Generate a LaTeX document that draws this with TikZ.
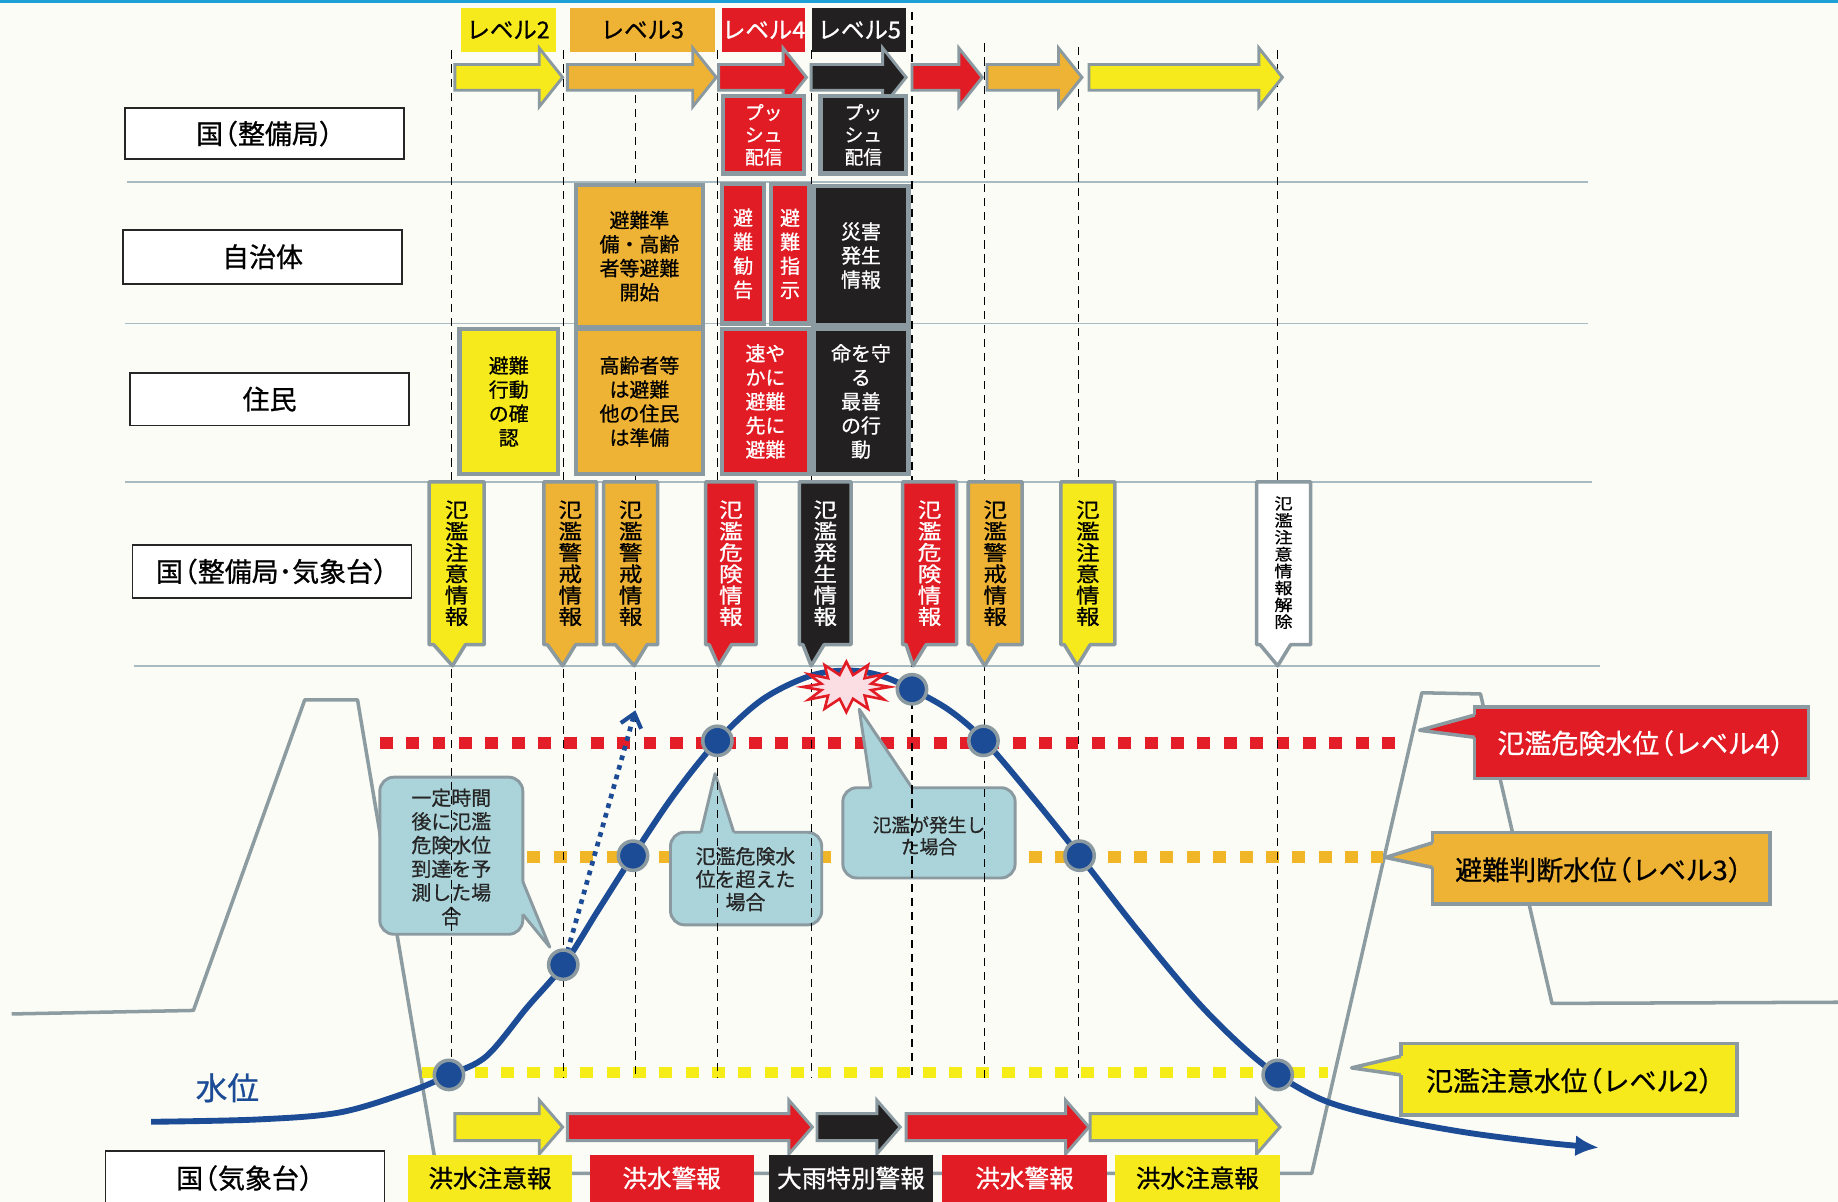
\documentclass[tikz,border=0pt]{standalone}
\usepackage{fontspec}
\setmainfont[FakeBold=0.8]{Noto Sans CJK JP}
\newfontfamily\jpwide[FakeStretch=1.15,FakeBold=0.8]{Noto Sans CJK JP}
\usetikzlibrary{arrows.meta}
\definecolor{bgc}{RGB}{252,252,246}
\definecolor{topc}{RGB}{30,160,215}
\definecolor{sepc}{RGB}{168,186,194}
\definecolor{gbord}{RGB}{138,154,160}
\definecolor{cyel}{RGB}{246,234,28}
\definecolor{cora}{RGB}{238,178,52}
\definecolor{cred}{RGB}{226,28,36}
\definecolor{cblk}{RGB}{34,32,32}
\definecolor{callc}{RGB}{170,212,218}
\definecolor{navyc}{RGB}{28,76,150}
\definecolor{dyke}{RGB}{140,156,160}
\definecolor{burstc}{RGB}{250,222,228}
\definecolor{dred}{RGB}{228,30,40}
\definecolor{dora}{RGB}{240,182,40}
\definecolor{dyel}{RGB}{246,236,24}
\newcommand\lpar{\kern-0.45em（}
\newcommand\rpar{）\kern-0.45em}
\newcommand\fsz[2]{\fontsize{#1}{#2}\selectfont}
\newcommand\blkarrow[6]{\draw[blk,fill=#6] (#1,{#3-#4}) -- ({#2-20},{#3-#4}) -- ({#2-20},{#3-#5}) -- (#2,#3) -- ({#2-20},{#3+#5}) -- ({#2-20},{#3+#4}) -- (#1,{#3+#4}) -- cycle;}
\newcommand\flagshape[4]{\draw[flagst,fill=#4] (#1,411) -- (#2,411) -- (#2,550) -- ({#3+11},550) -- (#3,568) -- ({max(#1+3,#3-16)},550) -- (#1,550) -- cycle;}
\tikzset{
  every node/.style={inner sep=0pt, outer sep=0pt},
  rowlab/.style={draw=black!85, line width=1.6, fill=white, minimum width=238, minimum height=45, font=\fsz{23}{26}},
  lvl/.style={minimum height=37, font=\fsz{20}{24}},
  gbox/.style={draw=gbord, line width=3.5, align=center, font=\fsz{17}{20.5}},
  flagst/.style={draw=gbord, line width=3, line join=round},
  ftext/.style={align=center, font=\jpwide\fsz{17.5}{18.2}},
  blk/.style={draw=gbord, line width=2.5, line join=miter},
  sepline/.style={draw=sepc, line width=1.5},
  vdash/.style={draw=black, line width=1, dash pattern=on 7 off 5},
  callst/.style={fill=callc, draw=gbord, line width=2.5},
  calltext/.style={align=center, text=black!85},
  lvline/.style={line width=10, dash pattern=on 11 off 11.5},
  wcirc/.style={fill=navyc, draw=gbord, line width=3},
  botbox/.style={minimum width=140, minimum height=40, font=\fsz{21}{24}},
  lvcall/.style={draw=gbord, line width=3},
  pside/.style={draw=gbord, line width=3, line join=round},
  lvtext/.style={font=\fsz{23}{26}},
}
\begin{document}
\begin{tikzpicture}[x=1pt,y=-1pt]
\useasboundingbox (0,0) rectangle (1568,1025);
\clip (0,0) rectangle (1568,1025);
\fill[bgc] (0,0) rectangle (1568,1025);
\draw[topc, line width=3] (0,1) -- (1568,1);
% separators
\draw[sepline] (108,155) -- (1355,155);
\draw[sepline] (107,276) -- (1355,276);
\draw[sepline] (107,411) -- (1358,411);
\draw[sepline] (114,568) -- (1365,568);
% dykes and ground
\draw[dyke, line width=3, line join=round] (10,865) -- (165,862) -- (260,597) -- (305,597) -- (373,1001) -- (1119,1001) -- (1213,591) -- (1263,592) -- (1324,856) -- (1568,855);
% level lines
\draw[dred, lvline] (324,634) -- (1200,634);
\draw[dora, lvline] (450,731) -- (1180,731);
\draw[dyel, lvline] (360,915) -- (1133,915);
% callouts
\draw[callst, rounded corners=12] (324,663) rectangle (446,797);
\fill[callc] (440,752) -- (446,752) -- (469,808) -- (446,780) -- (440,780) -- cycle;
\draw[gbord, line width=2.5, line join=round] (446,752) -- (469,808) -- (446,780);
\node[calltext, font=\fsz{17}{20.2}] (t1) at (385,731) {一定時間\\後に氾濫\\危険水位\\到達を予\\測した場\\合};
\draw[callst, rounded corners=12] (572,710) rectangle (701,789);
\fill[callc] (598,716) -- (598,710) -- (610,660) -- (626,710) -- (626,716) -- cycle;
\draw[gbord, line width=2.5, line join=round] (598,710) -- (610,660) -- (626,710);
\node[calltext, font=\fsz{17}{19.5}] (t2) at (636,750) {氾濫危険水\\位を超えた\\場合};
\draw[callst, rounded corners=12] (719,672) rectangle (866,749);
\fill[callc] (743,678) -- (743,672) -- (733,605) -- (778,672) -- (778,678) -- cycle;
\draw[gbord, line width=2.5, line join=round] (743,672) -- (733,605) -- (778,672);
\node[calltext, font=\fsz{16}{18.5}] (t3) at (792.5,713) {氾濫が発生し\\た場合};
% right level callouts
\draw[lvcall, fill=cred] (1258,603) rectangle (1543,664);
\fill[cred] (1264,610) -- (1258,610) -- (1211,623) -- (1258,629) -- (1264,629) -- cycle;
\draw[pside] (1258,610) -- (1211,623) -- (1258,629);
\node[lvtext, text=white] (l4) at (1400,634) {氾濫危険水位\lpar レベル4\rpar};
\draw[lvcall, fill=cora] (1222,710) rectangle (1510,771);
\fill[cora] (1228,719) -- (1222,719) -- (1182,731.5) -- (1222,740) -- (1228,740) -- cycle;
\draw[pside] (1222,719) -- (1182,731.5) -- (1222,740);
\node[lvtext] (l3) at (1364,742) {避難判断水位\lpar レベル3\rpar};
\draw[lvcall, fill=cyel] (1195,890) rectangle (1482,951);
\fill[cyel] (1201,901) -- (1195,901) -- (1153,911) -- (1195,917) -- (1201,917) -- cycle;
\draw[pside] (1195,901) -- (1153,911) -- (1195,917);
\node[lvtext] (l2) at (1339,922) {氾濫注意水位\lpar レベル2\rpar};
% dashed verticals
\foreach \x/\ya/\yb in {385/43/920, 481/43/920, 542/45/920, 612/43/920, 692/43/920, 778/10/920, 840/37/920, 920/40/920, 1090/43/905}
  \draw[vdash] (\x,\ya) -- (\x,\yb);
% water level curve
\draw[navyc, line width=5, -{Latex[length=20,width=18]}] plot[smooth, tension=0.55] coordinates {(129,957) (220,955) (290,949) (350,931) (383,917) (415,901) (450,859) (481,823) (510,777) (540,730) (575,678) (612,632) (650,597) (690,577) (722,572) (750,576) (778,588) (810,606) (840,632) (880,679) (921,730) (970,793) (1020,853) (1060,893) (1090,917) (1130,939) (1180,953) (1250,966) (1320,975) (1364,979)};
% predicted rise
\draw[navyc, line width=4, dash pattern=on 4 off 4.5, -{Straight Barb[length=11,width=18,line width=3.5]}] (484,812) -- (542,606);
% points
\foreach \x/\y in {383/917, 480.5/823, 540/730, 612/632, 778/588, 839/632, 921/730, 1090/917}
  \draw[wcirc] (\x,\y) circle (12.5);
% burst
\draw[cred, line width=2.2, fill=burstc, line join=miter] plot[samples at={0,15,...,345}, variable=\a] ({722+(29.5+7.5*cos(12*\a))*cos(\a)},{586+(16+5.5*cos(12*\a))*sin(\a)}) -- cycle;
% top level labels
\node[lvl, fill=cyel, minimum width=81] (lv2) at (433.5,25.5) {レベル2};
\node[lvl, fill=cora, minimum width=124] (lv3) at (548,25.5) {レベル3};
\node[lvl, fill=cred, text=white, minimum width=69] (lv4) at (651.5,25.5) {レベル4};
\node[lvl, fill=cblk, text=white, minimum width=80] (lv5) at (733,25.5) {レベル5};
% top arrows
\blkarrow{388}{480}{66}{11}{25}{cyel}
\blkarrow{484}{611}{66}{11}{25}{cora}
\blkarrow{613}{688}{66}{11}{25}{cred}
\blkarrow{692}{773}{66}{11}{25}{cblk}
\blkarrow{778}{838}{66}{11}{25}{cred}
\blkarrow{842}{923}{66}{11}{25}{cora}
\blkarrow{929}{1094}{66}{11}{25}{cyel}
% push
\node[gbox, fill=cred, text=white, minimum width=69, minimum height=66, font=\fsz{16}{19}] (p4) at (651.5,115) {プッ\\シュ\\配信};
\node[gbox, fill=cblk, text=white, minimum width=73, minimum height=66, font=\fsz{16}{19}] (p5) at (736.5,115) {プッ\\シュ\\配信};
% row labels
\node[rowlab, minimum height=44] (r1) at (226,114) {国\lpar 整備局\rpar};
\node[rowlab, minimum height=46] (r2) at (224,219) {自治体};
\node[rowlab] (r3) at (230,340.5) {住民};
\node[rowlab] (r4) at (232,487.5) {国\lpar 整備局･気象台\rpar};
% municipality row
\node[gbox, fill=cora, minimum width=109, minimum height=121] (a1) at (545.5,218.5) {避難準\\備・高齢\\者等避難\\開始};
\node[gbox, fill=cred, text=white, minimum width=36, minimum height=119] (a2) at (634,216.5) {避\\難\\勧\\告};
\node[gbox, fill=cred, text=white, minimum width=32, minimum height=119] (a3) at (674,216.5) {避\\難\\指\\示};
\node[gbox, fill=cblk, text=white, minimum width=81, minimum height=118] (a4) at (734.5,218) {災害\\発生\\情報};
% residents row
\node[gbox, fill=cyel, minimum width=84, minimum height=123] (b1) at (434,342.5) {避難\\行動\\の確\\認};
\node[gbox, fill=cora, minimum width=109, minimum height=123] (b2) at (545.5,342.5) {高齢者等\\は避難\\他の住民\\は準備};
\node[gbox, fill=cred, text=white, minimum width=74, minimum height=123] (b3) at (653,342.5) {速や\\かに\\避難\\先に\\避難};
\node[gbox, fill=cblk, text=white, minimum width=81, minimum height=123] (b4) at (734.5,342.5) {命を守\\る\\最善\\の行\\動};
% flags
\flagshape{366}{413}{386}{cyel}
\node[ftext] (f1) at (389.5,480.5) {氾\\濫\\注\\意\\情\\報};
\flagshape{464}{509}{480}{cora}
\node[ftext] (f2) at (486.5,480.5) {氾\\濫\\警\\戒\\情\\報};
\flagshape{515}{561}{541}{cora}
\node[ftext] (f3) at (538,480.5) {氾\\濫\\警\\戒\\情\\報};
\flagshape{602}{645}{613}{cred}
\node[ftext, text=white] (f4) at (623.5,480.5) {氾\\濫\\危\\険\\情\\報};
\flagshape{682}{726}{692}{cblk}
\node[ftext, text=white] (f5) at (704,480.5) {氾\\濫\\発\\生\\情\\報};
\flagshape{770}{816}{779}{cred}
\node[ftext, text=white] (f6) at (793,480.5) {氾\\濫\\危\\険\\情\\報};
\flagshape{826}{872}{840}{cora}
\node[ftext] (f7) at (849,480.5) {氾\\濫\\警\\戒\\情\\報};
\flagshape{905}{951}{919}{cyel}
\node[ftext] (f8) at (928,480.5) {氾\\濫\\注\\意\\情\\報};
\flagshape{1072}{1118}{1090}{white}
\node[ftext, font=\jpwide\fsz{13.5}{14.4}] (f9) at (1095,480) {氾\\濫\\注\\意\\情\\報\\解\\除};
% bottom arrows
\blkarrow{388}{480}{961.5}{11.5}{23}{cyel}
\blkarrow{484}{693}{961.5}{11.5}{23}{cred}
\blkarrow{697}{768}{961.5}{11.5}{23}{cblk}
\blkarrow{773}{929}{961.5}{11.5}{23}{cred}
\blkarrow{930}{1092}{961.5}{11.5}{23}{cyel}
% bottom boxes
\node[botbox, fill=cyel] (k1) at (418,1005) {洪水注意報};
\node[botbox, fill=cred, text=white] (k2) at (573,1005) {洪水警報};
\node[botbox, fill=cblk, text=white] (k3) at (726,1005) {大雨特別警報};
\node[botbox, fill=cred, text=white] (k4) at (874,1005) {洪水警報};
\node[botbox, fill=cyel, minimum width=141] (k5) at (1021.5,1005) {洪水注意報};
\node[rowlab, minimum height=46] (r5) at (209,1005) {国\lpar 気象台\rpar};
% water level label
\node[text=navyc, font=\fsz{27}{30}] (wl) at (194,928) {水位};
\end{tikzpicture}
\end{document}
